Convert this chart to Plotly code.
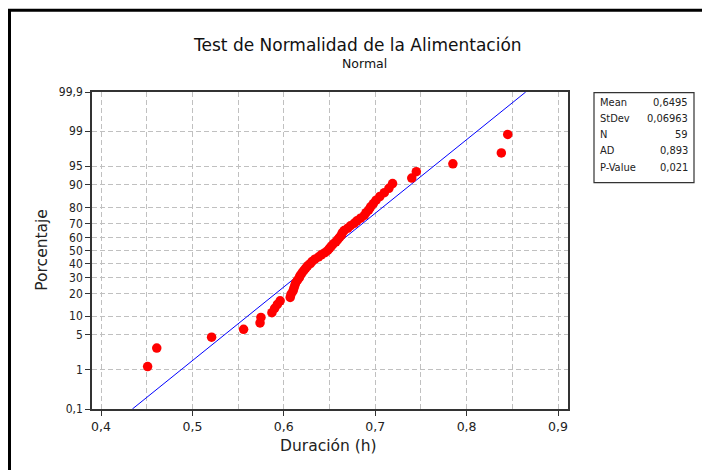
from statistics import NormalDist
import plotly.graph_objects as go

# ---- data ----
duracion = [0.451, 0.461, 0.521, 0.556, 0.574, 0.575, 0.587, 0.590, 0.593, 0.596,
            0.607, 0.608, 0.610, 0.611, 0.612, 0.613, 0.615, 0.617, 0.618, 0.620,
            0.622, 0.624, 0.626, 0.629, 0.631, 0.634, 0.638, 0.641, 0.645, 0.648,
            0.650, 0.652, 0.654, 0.657, 0.659, 0.661, 0.663, 0.664, 0.666, 0.670,
            0.673, 0.677, 0.680, 0.684, 0.688, 0.690, 0.693, 0.695, 0.698, 0.701,
            0.705, 0.710, 0.715, 0.719, 0.740, 0.745, 0.785, 0.838, 0.845]
percent = [1.18, 2.86, 4.55, 6.23, 7.91, 9.60, 11.28, 12.96, 14.65, 16.33,
           18.01, 19.70, 21.38, 23.06, 24.75, 26.43, 28.11, 29.80, 31.48, 33.16,
           34.85, 36.53, 38.22, 39.90, 41.58, 43.27, 44.95, 46.63, 48.32, 50.00,
           51.68, 53.37, 55.05, 56.73, 58.42, 60.10, 61.78, 63.47, 65.15, 66.84,
           68.52, 70.20, 71.89, 73.57, 75.25, 76.94, 78.62, 80.30, 81.99, 83.67,
           85.35, 87.04, 88.72, 90.40, 92.09, 93.77, 95.45, 97.14, 98.82]
stat_names = ["Mean", "StDev", "N", "AD", "P-Value"]
stat_values = ["0,6495", "0,06963", "59", "0,893", "0,021"]
mean_val = 0.6495
stdev_val = 0.06963
ytick_pct = [0.1, 1, 5, 10, 20, 30, 40, 50, 60, 70, 80, 90, 95, 99, 99.9]
ytick_text = ["0,1", "1", "5", "10", "20", "30", "40", "50", "60", "70", "80", "90", "95", "99", "99,9"]
xtick_vals = [0.4, 0.5, 0.6, 0.7, 0.8, 0.9]
xtick_text = ["0,4", "0,5", "0,6", "0,7", "0,8", "0,9"]

nd = NormalDist()
def prob(p):
    return nd.inv_cdf(p / 100.0)

zlo, zhi = prob(0.1), prob(99.9)

fig = go.Figure()
# fitted normal line
fig.add_trace(go.Scatter(
    x=[mean_val + zlo * stdev_val, mean_val + zhi * stdev_val],
    y=[zlo, zhi], mode="lines", line=dict(color="#0000ff", width=1),
    hoverinfo="skip", showlegend=False))
fig.add_trace(go.Scatter(
    x=duracion, y=[prob(p) for p in percent], mode="markers",
    marker=dict(color="#ff0000", size=9.5, line=dict(width=0)),
    showlegend=False))

L, T, W, H = 92, 92.3, 476, 317
def px(x):
    return (x - L) / W
def py(y):
    return (T + H - y) / H

grid = dict(showgrid=True, gridcolor="#c0c0c0", griddash="5px,3px", gridwidth=1)
fig.update_xaxes(range=[0.39015, 0.39015 + W / 914.0], tickvals=xtick_vals, ticktext=xtick_text,
                 ticks="outside", ticklen=5, tickcolor="#333", showline=True, mirror=True,
                 linecolor="#333", linewidth=1.5, zeroline=False,
                 tickfont=dict(family="DejaVu Sans", size=12.5, color="#222"),
                 minor=dict(dtick=0.05, tick0=0.4, showgrid=True, gridcolor="#c0c0c0",
                            griddash="5px,3px", ticks=""),
                 **grid)
fig.update_yaxes(range=[zlo, zhi], tickvals=[prob(p) for p in ytick_pct], ticktext=ytick_text,
                 ticks="outside", ticklen=5, tickcolor="#333", showline=True, mirror=True,
                 linecolor="#333", linewidth=1.5, zeroline=False,
                 tickfont=dict(family="DejaVu Sans Condensed", size=12, color="#222"),
                 **grid)

ann = []
ann.append(dict(text="Test de Normalidad de la Alimentación", x=px(357), y=py(45),
                font=dict(family="DejaVu Sans", size=17, color="#111")))
ann.append(dict(text="Normal", x=px(364), y=py(64),
                font=dict(family="DejaVu Sans", size=12.5, color="#111")))
ann.append(dict(text="Duración (h)", x=px(328), y=py(446),
                font=dict(family="DejaVu Sans", size=15.5, color="#222")))
ann.append(dict(text="Porcentaje", x=px(42), y=py(250), textangle=-90,
                font=dict(family="DejaVu Sans", size=15.5, color="#222")))
row_y = [103, 119, 135, 151, 167.5]
for name, val, ry in zip(stat_names, stat_values, row_y):
    ann.append(dict(text=name, x=px(598), y=py(ry), xanchor="left",
                    font=dict(family="DejaVu Sans Condensed", size=11, color="#222")))
    ann.append(dict(text=val, x=px(690), y=py(ry), xanchor="right",
                    font=dict(family="DejaVu Sans Condensed", size=11, color="#222")))
for a in ann:
    a.setdefault("xanchor", "center")
    a.update(xref="paper", yref="paper", yanchor="middle", showarrow=False)

shapes = [
    dict(type="rect", xref="paper", yref="paper", x0=px(594), x1=px(694), y0=py(183), y1=py(93),
         line=dict(color="#333", width=1.2)),
    dict(type="rect", xref="paper", yref="paper", x0=px(9.5), x1=px(760), y0=py(520), y1=py(10.5),
         line=dict(color="#000", width=3)),
]

fig.update_layout(width=702, height=470, margin=dict(l=L, r=702 - L - W, t=T, b=470 - T - H),
                  paper_bgcolor="white", plot_bgcolor="white", separators=",.",
                  annotations=ann, shapes=shapes, showlegend=False)
fig.write_html("out.html", config={"displayModeBar": False},
               post_script="document.body.style.margin='0';document.body.style.padding='0';document.body.style.overflow='hidden';")
